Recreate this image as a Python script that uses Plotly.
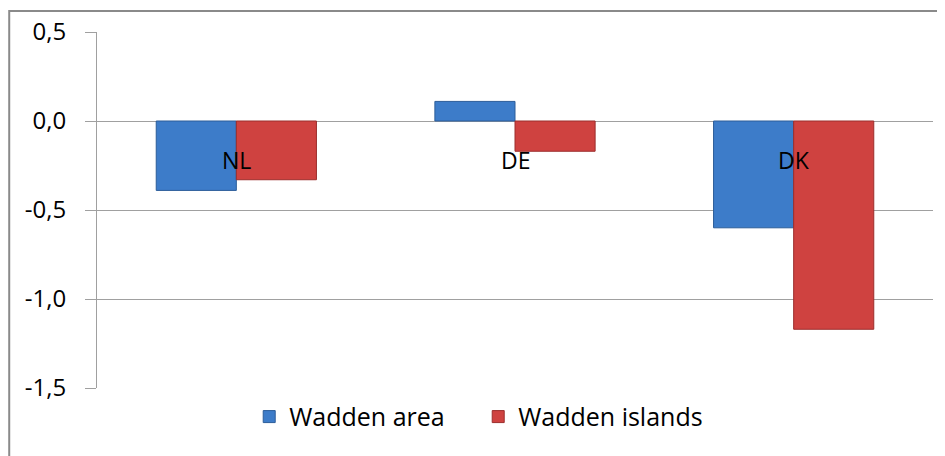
import plotly.graph_objects as go

categories = ["NL", "DE", "DK"]
wadden_area = [-0.39, 0.11, -0.60]
wadden_islands = [-0.33, -0.17, -1.17]
y_ticks = [0.5, 0.0, -0.5, -1.0, -1.5]
y_tick_labels = ["0,5", "0,0", "-0,5", "-1,0", "-1,5"]

FONT = "Open Sans"
BLUE = "#3d7cc9"
RED = "#cf4240"

fig = go.Figure()
fig.add_trace(go.Bar(x=categories, y=wadden_area, name="Wadden area",
                     marker=dict(color=BLUE, line=dict(color="#2c5d99", width=1))))
fig.add_trace(go.Bar(x=categories, y=wadden_islands, name="Wadden islands",
                     marker=dict(color=RED, line=dict(color="#9c2e2c", width=1))))

for c in categories:
    fig.add_annotation(x=c, y=0, xref="x", yref="y", text=c, showarrow=False,
                       yshift=-39, font=dict(family=FONT, size=23, color="#000"))

fig.add_shape(type="rect", xref="paper", yref="paper", x0=-0.105, x1=1.05,
              y0=-0.4, y1=1.059, line=dict(color="#8a8a8a", width=2),
              fillcolor="rgba(0,0,0,0)", layer="below")

fig.update_layout(
    width=937, height=448,
    margin=dict(l=89, r=12, t=24, b=68, autoexpand=False),
    paper_bgcolor="white", plot_bgcolor="white",
    barmode="group", bargap=0.425, bargroupgap=0,
    showlegend=True,
    legend=dict(orientation="h", x=0.456, xanchor="center", y=-0.081, yanchor="middle",
                font=dict(family=FONT, size=25, color="#000"),
                entrywidth=184, entrywidthmode="pixels",
                itemwidth=30, traceorder="normal"),
    font=dict(family=FONT, size=23, color="#000"),
    xaxis=dict(showticklabels=False, showgrid=False, zeroline=False,
               showline=False, ticks="", automargin=False),
    yaxis=dict(range=[-1.5, 0.5], tickvals=y_ticks, ticktext=y_tick_labels,
               automargin=False,
               showgrid=True, gridcolor="#a0a0a0", gridwidth=1,
               zeroline=True, zerolinecolor="#a0a0a0", zerolinewidth=1,
               showline=True, linecolor="#a0a0a0", linewidth=1,
               ticks="outside", ticklen=11, tickcolor="#a0a0a0",
               ticklabelstandoff=14,
               tickfont=dict(family=FONT, size=24, color="#000")),
)

fig.write_html("out.html")
